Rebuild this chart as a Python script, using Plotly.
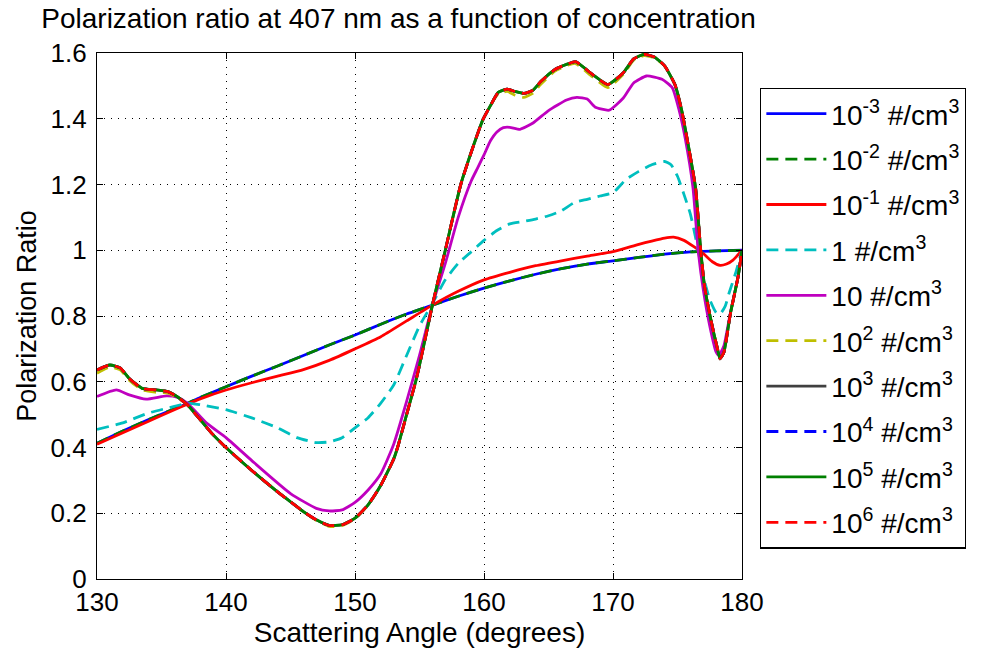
import plotly.graph_objects as go

# ---------------- data ----------------
labels = [
    "10<sup>-3</sup> #/cm<sup>3</sup>",
    "10<sup>-2</sup> #/cm<sup>3</sup>",
    "10<sup>-1</sup> #/cm<sup>3</sup>",
    "1 #/cm<sup>3</sup>",
    "10 #/cm<sup>3</sup>",
    "10<sup>2</sup> #/cm<sup>3</sup>",
    "10<sup>3</sup> #/cm<sup>3</sup>",
    "10<sup>4</sup> #/cm<sup>3</sup>",
    "10<sup>5</sup> #/cm<sup>3</sup>",
    "10<sup>6</sup> #/cm<sup>3</sup>",
]
colors = ["#0000ff", "#008000", "#ff0000", "#00bfbf", "#bf00bf",
          "#bfbf00", "#404040", "#0000ff", "#008000", "#ff0000"]
dashes = ["solid", "12px,7px", "solid", "12px,7px", "solid",
          "12px,7px", "solid", "12px,7px", "solid", "12px,7px"]

# low concentrations (10^-3, 10^-2)
ang_low = [130, 132, 134, 136, 137, 138, 140, 142, 144, 146, 148, 150, 152, 154,
           156, 158, 160, 162, 164, 166, 168, 170, 172, 174, 176, 178, 180]
val_low = [0.413, 0.45, 0.485, 0.518, 0.534, 0.552, 0.585, 0.617, 0.648, 0.68,
           0.712, 0.742, 0.775, 0.806, 0.833, 0.86, 0.885, 0.907, 0.927, 0.944,
           0.958, 0.968, 0.978, 0.988, 0.995, 0.998, 1.0]

# 10^-1
ang_m1 = [130, 132, 134, 136, 137, 138, 140, 142, 144, 146, 148, 150, 152, 154,
          156, 158, 160, 162, 164, 166, 168, 170, 172, 173, 174, 174.7, 175.5,
          176.3, 177, 177.7, 178.3, 178.8, 179.3, 180]
val_m1 = [0.41, 0.445, 0.48, 0.515, 0.532, 0.548, 0.575, 0.597, 0.617, 0.637,
          0.665, 0.70, 0.737, 0.785, 0.833, 0.875, 0.91, 0.933, 0.953, 0.968,
          0.982, 0.996, 1.018, 1.028, 1.037, 1.04, 1.03, 1.01, 0.99, 0.965,
          0.954, 0.958, 0.97, 1.0]

# 1 #/cm3
ang_1 = [130, 132, 134, 136, 137, 138, 140, 142, 144, 145.5, 147, 148, 149, 150,
         151, 152, 153, 154, 155, 156, 157, 158, 159, 160, 161, 162, 163, 164,
         165, 166, 167, 168, 169, 170, 171, 172, 173, 174, 174.5, 175, 175.5,
         176, 176.5, 177, 177.5, 178, 178.3, 178.7, 179, 179.5, 180]
val_1 = [0.455, 0.475, 0.505, 0.525, 0.535, 0.53, 0.515, 0.49, 0.46, 0.43,
         0.415, 0.417, 0.43, 0.46, 0.49, 0.535, 0.59, 0.68, 0.77, 0.838, 0.91,
         0.96, 0.995, 1.03, 1.06, 1.08, 1.087, 1.095, 1.105, 1.12, 1.145, 1.155,
         1.165, 1.175, 1.215, 1.24, 1.26, 1.27, 1.26, 1.225, 1.17, 1.11, 1.02,
         0.92, 0.85, 0.81, 0.806, 0.83, 0.87, 0.93, 1.0]

# 10 #/cm3
ang_10 = [130, 131.5, 132.5, 133.8, 135.4, 136.2, 137, 138.5, 140, 142, 145,
          147, 148, 149, 150, 151, 152, 153, 154, 155, 156, 157, 158, 159, 159.5,
          160, 160.5, 161, 161.5, 162, 162.8, 163.8, 165, 166.4, 167.2, 168,
          168.6, 169.7, 170.8, 171.6, 172.6, 173.8, 174.6, 175.1, 175.6, 176.2,
          176.6, 177, 177.5, 178, 178.2, 178.6, 179.1, 179.7, 180]
val_10 = [0.555, 0.575, 0.56, 0.547, 0.557, 0.553, 0.535, 0.474, 0.43, 0.36,
          0.26, 0.215, 0.207, 0.21, 0.233, 0.27, 0.32, 0.41, 0.54, 0.68, 0.833,
          0.96, 1.10, 1.21, 1.25, 1.29, 1.333, 1.36, 1.373, 1.374, 1.368, 1.387,
          1.425, 1.457, 1.465, 1.46, 1.436, 1.426, 1.463, 1.509, 1.53, 1.52,
          1.494, 1.43, 1.34, 1.19, 1.0, 0.88, 0.77, 0.69, 0.68, 0.71, 0.81,
          0.92, 1.0]

# high concentrations (10^2 ... 10^6)
ang_hi = [130, 131, 131.8, 132.5, 133.5, 134.6, 135.5, 136.2, 137, 137.8, 138.9,
          140, 142, 144, 145, 146, 147, 148, 149, 150, 151, 152, 153, 153.3, 154,
          154.7, 155, 156, 157, 158.2, 159.2, 159.9, 160.5, 161.1, 161.8, 162.4,
          163.1, 163.8, 164.4, 165.5, 166.5, 167.1, 168.4, 169.6, 170.8, 171.6,
          172.4, 173.2, 174.0, 174.8, 175.3, 175.8, 176.4, 176.8, 177.1, 177.6,
          178.1, 178.3, 178.6, 179.1, 179.7, 180]
val_hi = [0.636, 0.651, 0.642, 0.61, 0.58, 0.575, 0.57, 0.555, 0.53, 0.494, 0.443,
          0.40, 0.33, 0.265, 0.235, 0.205, 0.18, 0.163, 0.165, 0.185, 0.225,
          0.285, 0.365, 0.40, 0.50, 0.60, 0.65, 0.833, 1.0, 1.2, 1.32, 1.396,
          1.44, 1.48, 1.49, 1.483, 1.477, 1.487, 1.513, 1.55, 1.567, 1.574,
          1.535, 1.504, 1.54, 1.582, 1.596, 1.588, 1.561, 1.504, 1.43, 1.327,
          1.19, 1.0, 0.89, 0.786, 0.70, 0.67, 0.69, 0.807, 0.92, 1.0]
val_hi2 = [0.626, 0.645, 0.636, 0.605, 0.575, 0.568, 0.565, 0.552, 0.53, 0.494, 0.443,
           0.40, 0.33, 0.265, 0.235, 0.205, 0.178, 0.16, 0.162, 0.183, 0.225,
           0.285, 0.365, 0.40, 0.50, 0.60, 0.65, 0.833, 1.0, 1.2, 1.32, 1.396,
           1.44, 1.476, 1.483, 1.472, 1.465, 1.478, 1.505, 1.545, 1.563, 1.568,
           1.528, 1.495, 1.535, 1.578, 1.592, 1.585, 1.561, 1.504, 1.43, 1.327,
           1.19, 1.0, 0.89, 0.786, 0.70, 0.67, 0.69, 0.807, 0.92, 1.0]

series_x = [ang_low, ang_low, ang_m1, ang_1, ang_10, ang_hi, ang_hi, ang_hi, ang_hi, ang_hi]
series_y = [val_low, val_low, val_m1, val_1, val_10, val_hi2, val_hi, val_hi, val_hi, val_hi]

x_ticks = [130, 140, 150, 160, 170, 180]
y_ticks = [0, 0.2, 0.4, 0.6, 0.8, 1.0, 1.2, 1.4, 1.6]
y_ticklabels = ["0", "0.2", "0.4", "0.6", "0.8", "1", "1.2", "1.4", "1.6"]

# ---------------- figure ----------------
FONT = "Liberation Sans, Arial, sans-serif"
fig = go.Figure()
for i in range(len(labels)):
    fig.add_trace(go.Scatter(
        x=series_x[i], y=series_y[i], mode="lines", name=labels[i],
        legendgroup=str(i),
        line=dict(color=colors[i], width=2.8, dash=dashes[i],
                  shape="spline", smoothing=0.5),
    ))

fig.update_layout(
    width=983, height=656,
    paper_bgcolor="white", plot_bgcolor="white",
    margin=dict(l=97, r=241, t=53, b=77),
    font=dict(family=FONT, color="black", size=22),
    title=dict(text="Polarization ratio at 407 nm as a function of concentration",
               x=0.042, xanchor="left", y=0.972, yanchor="middle",
               font=dict(size=28, family=FONT)),
    showlegend=True,
    legend=dict(x=1.028, xanchor="left", y=0.934, yanchor="top",
                bordercolor="black", borderwidth=1.3, bgcolor="white",
                font=dict(size=28, family=FONT), tracegroupgap=6,
                itemwidth=60),
)
fig.update_xaxes(
    range=[130, 180], tickvals=x_ticks, ticks="inside", ticklen=6,
    tickcolor="black", showline=True, linecolor="black", linewidth=1.3,
    mirror="ticks", showgrid=True, gridcolor="black", gridwidth=1,
    griddash="1px,6px", zeroline=False,
    tickfont=dict(size=26), title=dict(text="Scattering Angle (degrees)",
                                       font=dict(size=28), standoff=4),
)
fig.update_yaxes(
    range=[0, 1.6], tickvals=y_ticks, ticktext=y_ticklabels, ticks="inside",
    ticklen=6, tickcolor="black", showline=True, linecolor="black",
    linewidth=1.3, mirror="ticks", showgrid=True, gridcolor="black",
    gridwidth=1, griddash="1px,6px", zeroline=False, ticklabelstandoff=4,
    tickfont=dict(size=26), title=dict(text="Polarization Ratio",
                                       font=dict(size=27), standoff=6),
)

fig.write_html("out.html")
